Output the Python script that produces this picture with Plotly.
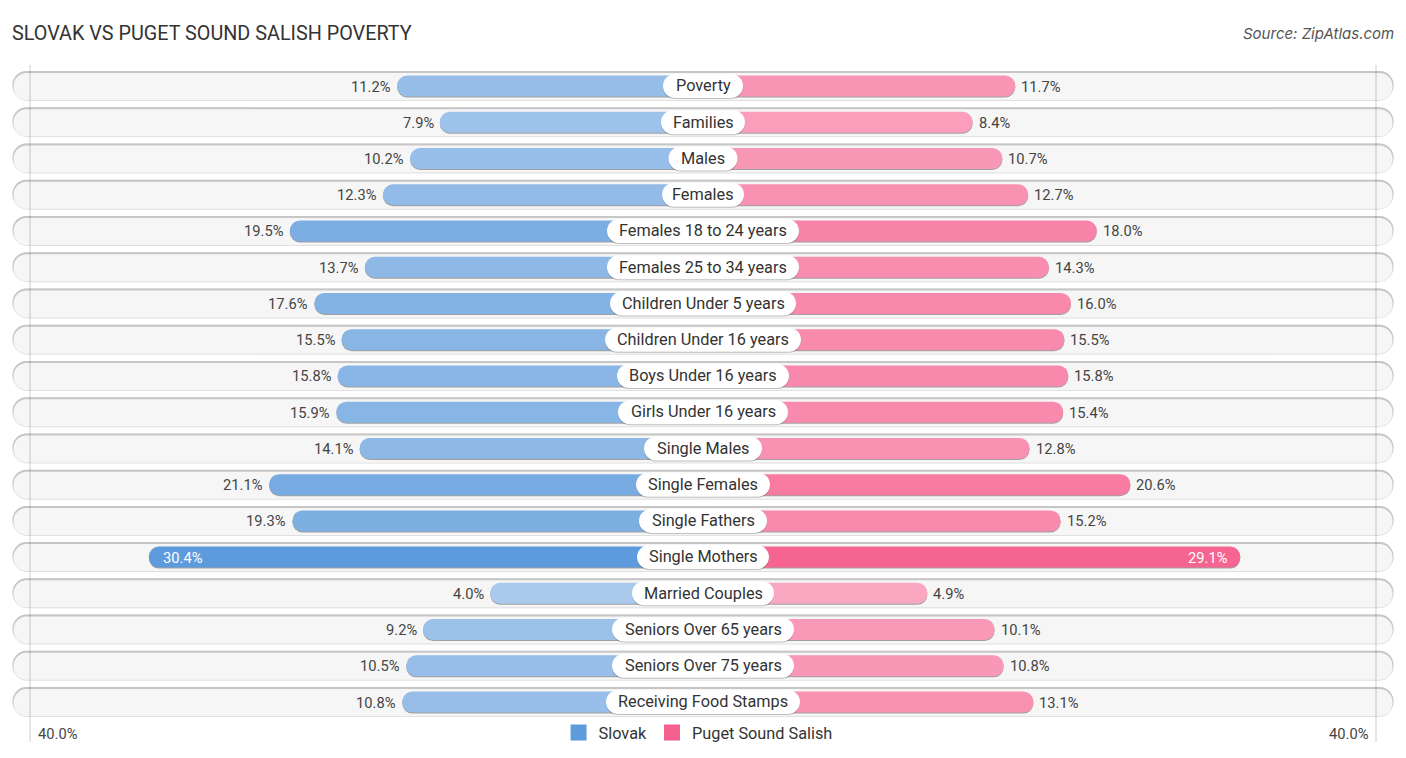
import plotly.graph_objects as go

categories = ["Poverty", "Families", "Males", "Females", "Females 18 to 24 years",
              "Females 25 to 34 years", "Children Under 5 years", "Children Under 16 years",
              "Boys Under 16 years", "Girls Under 16 years", "Single Males", "Single Females",
              "Single Fathers", "Single Mothers", "Married Couples", "Seniors Over 65 years",
              "Seniors Over 75 years", "Receiving Food Stamps"]
slovak = [11.2, 7.9, 10.2, 12.3, 19.5, 13.7, 17.6, 15.5, 15.8, 15.9, 14.1, 21.1, 19.3, 30.4, 4.0, 9.2, 10.5, 10.8]
salish = [11.7, 8.4, 10.7, 12.7, 18.0, 14.3, 16.0, 15.5, 15.8, 15.4, 12.8, 20.6, 15.2, 29.1, 4.9, 10.1, 10.8, 13.1]

# Layout / styling (pixel geometry of the page)
W, H = 1406, 758
CENTER = 703
PX_PER_UNIT = 12.93
INNER_PX = 161          # half-width of the gap at value 0
ROW0, ROW_STEP = 86, 36.24
pill_widths = [80, 84, 69, 82, 192, 192, 186, 196, 172, 170, 118, 134, 128, 132, 142, 182, 182, 194]
BLUE_RGB, PINK_RGB = (94, 155, 220), (246, 96, 143)

n = len(categories)
rows = list(range(n))
px_y = lambda p: p / ROW_STEP      # pixels -> row units
base_val = -INNER_PX / PX_PER_UNIT


def tint(rgb, v):
    """Blend towards white: larger values are drawn more saturated."""
    a = min(1, 0.46 + 0.0178 * v)
    return "rgb({},{},{})".format(*[round(255 + (c - 255) * a) for c in rgb])


fig = go.Figure()


def bar(x, base, xaxis, color, h, dy=0.0, radius=0):
    fig.add_trace(go.Bar(
        y=rows, x=x, base=base, orientation="h", xaxis=xaxis, yaxis="y",
        width=px_y(h), offset=px_y(-h / 2 + dy),
        marker=dict(color=color, line=dict(width=0), cornerradius=radius),
        showlegend=False, hoverinfo="skip"))


# tracks on the pixel axis: light lower edge, darker upper edge, pale fill
bar([1381] * n, -690.5, "x", "#e0e0e0", 30, 0, 15)
bar([1381] * n, -690.5, "x", "#c6c6c6", 28, -1, 14)
bar([1379] * n, -689.5, "x", "#f6f6f6", 27, 0.5, 14)

# value bars
for vals, ax, rgb in ((slovak, "x2", BLUE_RGB), (salish, "x3", PINK_RGB)):
    lens = [v - base_val for v in vals]
    bar(lens, base_val, ax, "rgb(160,160,160)", 21, 1, 10.5)
    bar(lens, base_val, ax, [tint(rgb, v) for v in vals], 21, 0, 10.5)

# label pills, drawn on a top pixel axis
half = [-w / 2 for w in pill_widths]
bar(pill_widths, half, "x4", "rgba(0,0,0,0.22)", 24, 1, 12)
bar(pill_widths, half, "x4", "#ffffff", 24, 0, 12)

# legend
for name, rgb in (("Slovak", BLUE_RGB), ("Puget Sound Salish", PINK_RGB)):
    fig.add_trace(go.Scatter(x=[None], y=[None], mode="markers", name=name, xaxis="x", yaxis="y",
                             marker=dict(symbol="square", size=18, color="rgb({},{},{})".format(*rgb)),
                             hoverinfo="skip"))

ann = []
for i, c in enumerate(categories):
    ann.append(dict(x=0, y=i - px_y(0.2), xref="x4", yref="y", text=c, showarrow=False,
                    font=dict(size=16.3, color="#333333")))
    for v, ax, side in ((slovak[i], "x2", -1), (salish[i], "x3", 1)):
        inside = v > 25
        ann.append(dict(x=v, y=i + px_y(0.5), xref=ax, yref="y", text=f"{v:.1f}%", showarrow=False,
                        xanchor=("left" if side < 0 else "right") if inside else ("right" if side < 0 else "left"),
                        xshift=(12 if side < 0 else -10) if inside else (-4 if side < 0 else 4),
                        font=dict(size=14.7, color="#ffffff" if inside else "#444444")))

for x, anchor, label in ((-667, "left", "40.0%"), (668, "right", "40.0%")):
    ann.append(dict(x=x, y=1 - 734 / H, xref="x4", yref="paper", text=label, showarrow=False,
                    xanchor=anchor, yanchor="middle", font=dict(size=14.7, color="#444444")))

ann.append(dict(x=1394 / W, y=1 - 33 / H, xref="paper", yref="paper", text="<i>Source: ZipAtlas.com</i>",
                showarrow=False, xanchor="right", yanchor="middle", xshift=2,
                font=dict(family="Inter, sans-serif", size=15, color="#555555")))

shapes = [dict(type="line", xref="x4", yref="paper", x0=s, x1=s, y0=1 - 65 / H, y1=1 - 742 / H,
               line=dict(color="rgba(0,0,0,0.2)", width=1), layer="above") for s in (-673, 673)]

hidden = dict(visible=False, fixedrange=True)
pix_range = [-CENTER, W - CENTER]
left_range = [(CENTER - INNER_PX) / PX_PER_UNIT, (CENTER - INNER_PX - W) / PX_PER_UNIT]
right_range = [-(CENTER + INNER_PX) / PX_PER_UNIT, (W - CENTER - INNER_PX) / PX_PER_UNIT]

fig.update_layout(
    width=W, height=H, margin=dict(l=0, r=0, t=0, b=0, pad=0),
    paper_bgcolor="white", plot_bgcolor="white",
    font=dict(family="Roboto, sans-serif"), barmode="overlay",
    title=dict(text="SLOVAK VS PUGET SOUND SALISH POVERTY", x=12 / W, xref="paper", xanchor="left",
               y=1 - 33 / H, yref="paper", yanchor="middle", font=dict(size=19.8, color="#333333")),
    xaxis=dict(range=pix_range, **hidden),
    xaxis2=dict(range=left_range, overlaying="x", anchor="y", **hidden),
    xaxis3=dict(range=right_range, overlaying="x", anchor="y", **hidden),
    xaxis4=dict(range=pix_range, overlaying="x", anchor="y", **hidden),
    yaxis=dict(range=[(H - ROW0) / ROW_STEP, -ROW0 / ROW_STEP], **hidden),
    legend=dict(orientation="h", x=0.4965, xanchor="center", y=1 - 733 / H, yanchor="middle",
                bgcolor="rgba(0,0,0,0)", font=dict(size=16.3, color="#333333"), itemclick=False,
                itemdoubleclick=False),
    annotations=ann, shapes=shapes, hovermode=False)

fig.write_html("out.html", config={"displayModeBar": False},
               post_script="document.body.style.margin='0';")
